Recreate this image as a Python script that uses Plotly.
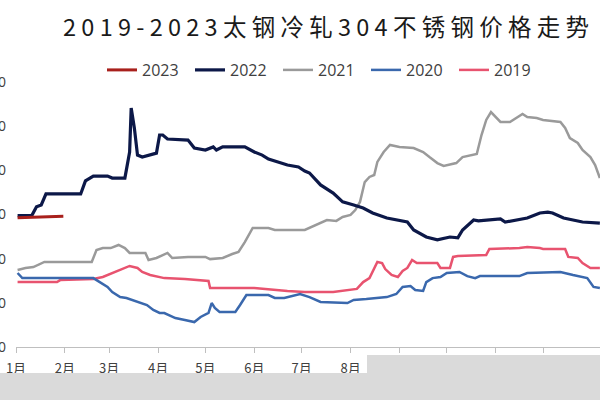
import plotly.graph_objects as go

# Day-of-year positions (0 = 1月1日) and prices (元/吨)
days_2023 = [1, 10, 20, 30]
vals_2023 = [17850, 17880, 17900, 17920]

days_2022 = [1, 10, 13, 16, 19, 41, 44, 49, 58, 61, 69, 70, 72, 73, 75, 77, 80, 89, 91, 93,
             96, 109, 113, 120, 125, 127, 131, 145, 151, 156, 160, 166, 172, 179, 183, 186,
             193, 201, 207, 214, 220, 226, 235, 248, 252, 260, 267, 275, 280, 283, 290, 293,
             307, 310, 324, 332, 337, 340, 347, 359, 370]
vals_2022 = [17950, 17950, 18350, 18430, 18930, 18930, 19520, 19740, 19740, 19650, 19650,
             20010, 20830, 22820, 21920, 20690, 20600, 20780, 21600, 21600, 21420, 21370,
             21010, 20920, 21060, 20920, 21060, 21060, 20830, 20690, 20510, 20380, 20240,
             20150, 19970, 19880, 19340, 18970, 18570, 18430, 18290, 18070, 17840, 17660,
             17300, 16980, 16850, 16980, 16940, 17300, 17750, 17710, 17800, 17660, 17840,
             18070, 18110, 18070, 17840, 17660, 17610]

days_2021 = [1, 6, 11, 15, 18, 48, 51, 55, 60, 65, 69, 72, 82, 84, 89, 96, 99, 109, 120, 123,
             131, 137, 141, 145, 150, 160, 164, 183, 186, 193, 197, 203, 207, 212, 215, 218,
             221, 224, 227, 229, 233, 237, 243, 252, 258, 262, 267, 271, 279, 283, 288, 292,
             295, 298, 301, 304, 307, 313, 317, 321, 324, 330, 334, 345, 348, 351, 356, 359,
             364, 367, 370]
vals_2021 = [15490, 15580, 15620, 15760, 15850, 15850, 16390, 16480, 16480, 16620, 16480,
             16260, 16260, 15940, 16030, 16260, 16030, 16080, 16080, 15980, 16030, 16210,
             16300, 16750, 17390, 17390, 17300, 17300, 17390, 17610, 17750, 17710, 17890,
             17980, 18200, 18570, 19470, 19700, 19790, 20380, 20830, 21150, 21060, 21010,
             20830, 20600, 20330, 20200, 20330, 20600, 20690, 20740, 21600, 22280, 22640,
             22410, 22190, 22190, 22370, 22550, 22410, 22370, 22280, 22190, 21920, 21460,
             21240, 20920, 20600, 20240, 19650]

days_2020 = [1, 4, 49, 53, 58, 61, 66, 70, 74, 79, 83, 87, 91, 94, 101, 107, 113, 117, 122,
             124, 126, 129, 139, 142, 146, 160, 164, 170, 175, 180, 186, 193, 210, 214, 222,
             235, 241, 245, 250, 253, 258, 260, 264, 269, 273, 281, 286, 291, 294, 319, 324,
             345, 353, 362, 366, 370]
vals_2020 = [15350, 15120, 15120, 14940, 14720, 14490, 14260, 14220, 14130, 13990, 13900,
             13680, 13540, 13540, 13310, 13220, 13130, 13360, 13540, 13990, 13770, 13590,
             13590, 13900, 14350, 14350, 14220, 14220, 14310, 14400, 14260, 14040, 13990,
             14130, 14170, 14260, 14400, 14720, 14760, 14580, 14540, 14940, 15120, 15170,
             15350, 15400, 15210, 15120, 15210, 15210, 15350, 15400, 15260, 15120, 14720,
             14670]

days_2019 = [1, 26, 28, 49, 55, 61, 68, 72, 77, 80, 85, 94, 107, 122, 123, 151, 172, 183, 201,
             216, 220, 224, 229, 232, 234, 238, 242, 245, 248, 251, 254, 267, 269, 275, 277,
             280, 298, 300, 319, 324, 332, 334, 348, 350, 356, 359, 364, 370]
vals_2019 = [14940, 14940, 15030, 15080, 15170, 15350, 15530, 15670, 15580, 15400, 15260,
             15120, 15080, 14990, 14670, 14670, 14540, 14490, 14490, 14630, 14940, 15120,
             15850, 15800, 15530, 15260, 15170, 15440, 15580, 15940, 15800, 15800, 15580,
             15580, 16080, 16120, 16170, 16440, 16480, 16530, 16480, 16440, 16440, 16080,
             16030, 15800, 15580, 15580]

month_days = [0, 31, 59, 90, 120, 151, 181, 212, 243, 273, 304, 334]
month_labels = ["1月", "2月", "3月", "4月", "5月", "6月", "7月", "8月", "9月", "10月", "11月", "12月"]
y_ticks = [12000, 14000, 16000, 18000, 20000, 22000, 24000]

series = [
    ("2019", days_2019, vals_2019, "#e8536f", 2.5),
    ("2020", days_2020, vals_2020, "#3a68ad", 2.5),
    ("2021", days_2021, vals_2021, "#9a9a9a", 2.5),
    ("2022", days_2022, vals_2022, "#0c1848", 3.2),
    ("2023", days_2023, vals_2023, "#a8201c", 3.0),
]

fig = go.Figure()
for name, xs, ys, color, w in series:
    fig.add_trace(go.Scatter(x=xs, y=ys, name=name, mode="lines",
                             line=dict(color=color, width=w)))

title_text = " ".join(list("2019-2023太钢冷轧304不锈钢价格走势"))

PL, PB, PT = 16, 347, 82
PW, PH = 600 - PL, PB - PT

fig.update_layout(
    width=600, height=400,
    margin=dict(l=PL, r=0, t=PT, b=400 - PB),
    paper_bgcolor="white", plot_bgcolor="white",
    title=dict(text=title_text, x=326 / 600, xanchor="center", xref="container",
               y=1 - 28 / 400, yanchor="middle", yref="container",
               font=dict(family="Noto Sans CJK SC", size=23.5, color="#1a1a1a")),
    legend=dict(orientation="h", traceorder="reversed",
                x=(102 - PL) / PW, xanchor="left", y=(PB - 70) / PH, yanchor="middle",
                font=dict(family="Open Sans", size=16, color="#404040"),
                entrywidth=43, entrywidthmode="pixels", itemwidth=30,
                bgcolor="rgba(0,0,0,0)", borderwidth=0),
    showlegend=True,
    xaxis=dict(range=[0, PW / 1.578], tickmode="array", tickvals=month_days, ticktext=month_labels,
               automargin=False, ticklabeloverflow="allow",
               showgrid=False, zeroline=False, showline=True, linecolor="#bfbfbf", linewidth=1,
               ticks="outside", ticklen=5, tickcolor="#bfbfbf", ticklabelstandoff=4,
               tickfont=dict(family="Noto Sans CJK SC", size=13, color="#404040")),
    yaxis=dict(range=[12000, 24000], tickmode="array", tickvals=y_ticks,
               tickformat="d", automargin=False, ticklabeloverflow="allow",
               showgrid=False, zeroline=False, showline=False, ticks="",
               ticklabelstandoff=9,
               tickfont=dict(family="Open Sans", size=14, color="#404040")),
    shapes=[
        dict(type="rect", xref="paper", yref="paper", layer="above",
             x0=-0.05, x1=(367 - PL) / PW, y0=-(410 - PB) / PH, y1=-(373 - PB) / PH,
             fillcolor="#dadada", line=dict(width=0)),
        dict(type="rect", xref="paper", yref="paper", layer="above",
             x0=(367 - PL) / PW, x1=1.0, y0=-(410 - PB) / PH, y1=-(355 - PB) / PH,
             fillcolor="#dadada", line=dict(width=0)),
    ],
)

fig.write_html("out.html", config={"displayModeBar": False},
               post_script="document.body.style.margin='0px';")
